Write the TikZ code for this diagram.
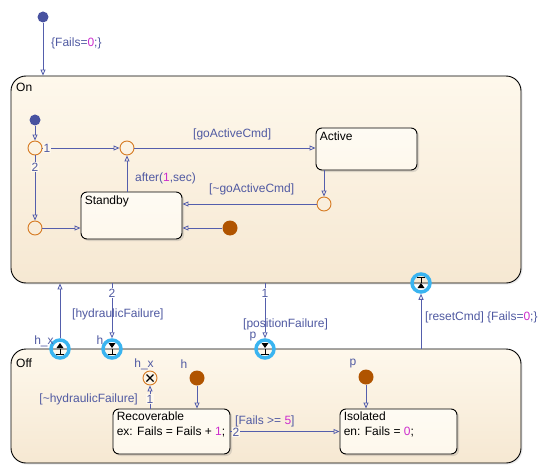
\documentclass[tikz,border=0pt]{standalone}
\usepackage{fontspec}
\setmainfont{Liberation Sans}
\usepackage{tikz}
\usetikzlibrary{arrows.meta,shadows,positioning}
\definecolor{wire}{RGB}{84,94,172}
\definecolor{lbl}{RGB}{80,90,162}
\definecolor{num}{RGB}{205,45,205}
\definecolor{junc}{RGB}{214,122,34}
\definecolor{histdot}{RGB}{176,84,0}
\definecolor{dotblue}{RGB}{72,82,160}
\definecolor{portring}{RGB}{58,180,240}
\definecolor{topfill}{RGB}{254,248,236}
\definecolor{botfill}{RGB}{246,232,210}
\tikzstyle{chart}=[draw,line width=0.9pt,rounded corners=15pt,top color=topfill,bottom color=botfill,drop shadow={opacity=0.15,shadow xshift=1.5pt,shadow yshift=-1.5pt}]
\tikzstyle{substate}=[draw,line width=0.9pt,rounded corners=6pt,top color=topfill!60!white,bottom color=topfill,drop shadow={opacity=0.25,shadow xshift=2pt,shadow yshift=-2pt}]
\tikzstyle{title}=[inner sep=0pt,anchor=west,text=black]
\tikzstyle{body}=[inner sep=0pt,anchor=north west,align=left,text=black]
\tikzstyle{trans}=[draw=wire,line width=0.8pt,-{Triangle[open,length=6pt,width=5pt]}]
\tikzstyle{tlabel}=[inner sep=0pt,text=lbl]
\tikzstyle{prio}=[inner sep=1pt,text=lbl,fill=topfill]
\tikzstyle{junction}=[circle,draw=junc,line width=0.9pt,minimum size=14pt,inner sep=0pt]
\tikzstyle{defdot}=[circle,fill=dotblue,minimum size=11pt,inner sep=0pt]
\tikzstyle{hdot}=[circle,fill=histdot,minimum size=15pt,inner sep=0pt]
\tikzstyle{port}=[circle,draw=portring,line width=3.5pt,minimum size=18pt,inner sep=0pt]

\begin{document}
\begin{tikzpicture}[x=1pt,y=-1pt,every node/.style={font=\fontsize{12}{15}\selectfont}]
\useasboundingbox[fill=white] (0,0) rectangle (548,473);

% superstates
\node[chart,minimum width=510pt,minimum height=207pt] (On) at (266,179.5) {};
\node[title] (OnT) at (16,87) {On};
\node[chart,minimum width=510pt,minimum height=114pt] (Off) at (266,406) {};
\node[title] (OffT) at (16,363) {Off};

% substates
\node[substate,minimum width=101pt,minimum height=42pt] (Active) at (366.5,149) {};
\node[body] (ActiveT) at ([shift={(4,4)}]Active.north west) {Active};
\node[substate,minimum width=101pt,minimum height=47pt] (Standby) at (131.5,215.5) {};
\node[body] (StandbyT) at ([shift={(4,4)}]Standby.north west) {Standby};
\node[substate,minimum width=117pt,minimum height=45pt] (Recoverable) at (171.5,431.5) {};
\node[body] (RecoverableT) at ([shift={(4,3)}]Recoverable.north west) {Recoverable\\ex: Fails = Fails + \textcolor{num}{1};};
\node[substate,minimum width=117pt,minimum height=45pt] (Isolated) at (398.5,431.5) {};
\node[body] (IsolatedT) at ([shift={(4,3)}]Isolated.north west) {Isolated\\en: Fails = \textcolor{num}{0};};

% dots and junctions
\node[defdot] (init) at (43,17) {};
\node[defdot] (initOn) at (35,120) {};
\node[junction] (J1) at (35,148) {};
\node[junction] (J2) at (127,148) {};
\node[junction] (J3) at (324,204) {};
\node[junction] (J4) at (35,228) {};
\node[hdot] (hStandby) at (230,228) {};
\node[junction] (hxJ) at (150,378) {};
\draw[line width=1.2pt] ([shift={(-3.5,-3.5)}]hxJ.center) -- ([shift={(3.5,3.5)}]hxJ.center)
  ([shift={(-3.5,3.5)}]hxJ.center) -- ([shift={(3.5,-3.5)}]hxJ.center);
\node[hdot] (hDot) at (197,378) {};
\node[hdot] (pDot) at (366,377) {};

% ports
\node[port] (Phx) at (60,349) {};
\node[port] (Ph) at (112,349) {};
\node[port] (Pp) at (265,349) {};
\node[port] (Pout) at (421,283) {};
\foreach \p in {Ph,Pp} {
  \fill ([shift={(-3.5,-6)}]\p.center) -- ([shift={(3.5,-6)}]\p.center) -- ([shift={(0,-1)}]\p.center) -- cycle;
  \draw[line width=0.7pt] (\p.center) -- ([shift={(0,5)}]\p.center)
    ([shift={(-4,5)}]\p.center) -- ([shift={(4,5)}]\p.center);
}
\fill ([shift={(-3.5,-1)}]Phx.center) -- ([shift={(3.5,-1)}]Phx.center) -- ([shift={(0,-6)}]Phx.center) -- cycle;
\draw[line width=0.7pt] (Phx.center) -- ([shift={(0,5)}]Phx.center)
  ([shift={(-4,5)}]Phx.center) -- ([shift={(4,5)}]Phx.center);
\fill ([shift={(-3.5,5)}]Pout.center) -- ([shift={(3.5,5)}]Pout.center) -- ([shift={(0,0)}]Pout.center) -- cycle;
\draw[line width=0.7pt] ([shift={(0,-6)}]Pout.center) -- (Pout.center)
  ([shift={(-4,-6)}]Pout.center) -- ([shift={(4,-6)}]Pout.center);

% transitions in On
\draw[trans] (init) -- (init |- On.north);
\node[tlabel,anchor=west] (initL) at (51,43) {\{Fails=\textcolor{num}{0};\}};
\draw[trans] (initOn) -- (J1);
\draw[trans] (J1) -- (J2);
\node[prio] (J1p1) at (47,148) {1};
\draw[trans] (J1) -- (J4);
\node[prio] (J1p2) at (35,167) {2};
\draw[trans] (J4) -- (J4 -| Standby.west);
\draw[trans] (J2) -- (J2 -| Active.west);
\node[tlabel,anchor=west] (goL) at (193,134) {[goActiveCmd]};
\draw[trans] (J2 |- Standby.north) -- (J2);
\node[tlabel,anchor=west] (afterL) at (135,178) {after(\textcolor{num}{1},sec)};
\draw[trans] (J3 |- Active.south) -- (J3);
\draw[trans] (J3) -- (J3 -| Standby.east);
\node[tlabel,anchor=west] (notgoL) at (209,189) {[\textasciitilde goActiveCmd]};
\draw[trans] (hStandby) -- (hStandby -| Standby.east);

% transitions between On and Off
\draw[trans] (Phx) -- (Phx |- On.south);
\node[tlabel] (PhxL) at (44,341) {h\_x};
\draw[trans] (Ph |- On.south) -- (Ph);
\node[prio,fill=white] (Php) at (112,293) {2};
\node[tlabel,anchor=west] (hydL) at (72,314) {[hydraulicFailure]};
\node[tlabel] (PhL) at (100,340) {h};
\draw[trans] (Pp |- On.south) -- (Pp);
\node[prio,fill=white] (Ppp) at (265,293) {1};
\node[tlabel,anchor=west] (posL) at (243,324) {[positionFailure]};
\node[tlabel] (PpL) at (253,337) {p};
\draw[trans] (Pout |- Off.north) -- (Pout);
\node[tlabel,anchor=west] (resetL) at (425,317) {[resetCmd] \{Fails=\textcolor{num}{0};\}};

% transitions in Off
\node[tlabel] (hxJL) at (144,364) {h\_x};
\node[tlabel] (hDotL) at (184,364) {h};
\node[tlabel] (pDotL) at (353,364) {p};
\draw[trans] (hxJ |- Recoverable.north) -- (hxJ);
\node[prio] (hxJp) at (150,399) {1};
\node[tlabel,anchor=east] (nothydL) at (138,399) {[\textasciitilde hydraulicFailure]};
\draw[trans] (hDot) -- (hDot |- Recoverable.north);
\draw[trans] (pDot) -- (pDot |- Isolated.north);
\draw[trans] (Recoverable.east) -- (Isolated.west);
\node[prio] (Recp) at (236,432) {2};
\node[tlabel,anchor=west] (failsL) at (235,421) {[Fails >= \textcolor{num}{5}]};
\end{tikzpicture}
\end{document}
